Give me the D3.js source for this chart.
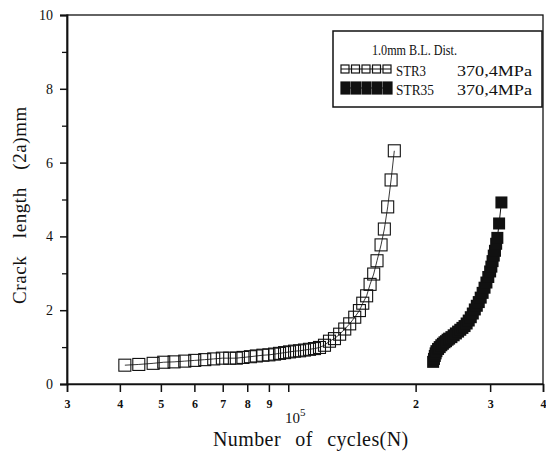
<!DOCTYPE html>
<html><head><meta charset="utf-8">
<script src="https://cdn.jsdelivr.net/npm/d3@7"></script>
<style>
body{margin:0;background:#fff;}
text{font-family:"Liberation Serif","DejaVu Serif",serif;fill:#111;}
</style></head>
<body><svg id="c" width="546" height="454"></svg>
<script>
// ---- data ----
const str3N = [41100,44340,47940,50790,53730,56940,60120,63480,66660,69870,72720,75390,78150,81390,84060,87120,90000,92820,95370,98010,100700,103500,106350,109260,112260,115350,118530,121800,125160,128600,132270,136000,139700,143600,147300,150000,153200,156100,159200,162100,165700,168700,171800,175000,178100];
const str3A = [0.51,0.53,0.56,0.59,0.60,0.62,0.64,0.66,0.68,0.70,0.70,0.70,0.72,0.74,0.76,0.78,0.79,0.81,0.83,0.85,0.87,0.89,0.90,0.92,0.94,0.96,0.99,1.05,1.16,1.23,1.35,1.49,1.63,1.81,1.99,2.19,2.39,2.70,2.98,3.34,3.77,4.20,4.80,5.53,6.32];
const str35N = [220000,221000,222000,223000,224000,226000,228000,230000,232000,234000,236000,238000,240000,243000,246000,249000,252000,255000,258000,261000,264000,267000,270000,273000,276000,279000,282000,285000,288000,291000,294000,297000,300000,302000,304000,306000,308000,310000,312000,315000,319000];
const str35A = [0.60,0.68,0.76,0.83,0.89,0.95,1.00,1.05,1.09,1.13,1.16,1.20,1.23,1.27,1.32,1.37,1.42,1.47,1.52,1.57,1.64,1.72,1.81,1.91,2.02,2.12,2.22,2.34,2.47,2.61,2.75,2.90,3.05,3.18,3.33,3.48,3.61,3.80,3.96,4.35,4.92];
const xTickValues = [30000,40000,50000,60000,70000,80000,90000,100000,200000,300000,400000];
const xTickLabels = ["3","4","5","6","7","8","9","","2","3","4"];
const yMajorTicks = [0,2,4,6,8,10];
const yMinorTicks = [1,3,5,7,9];
const legendTitle = "1.0mm B.L. Dist.";
const seriesNames = ["STR3","STR35"];
const seriesStress = ["370,4MPa","370,4MPa"];

// ---- layout ----
const svg = d3.select("#c");
const L=67, R=543, T=15, B=384;
const x = d3.scaleLog().domain([30000,400000]).range([L,R]);
const y = d3.scaleLinear().domain([0,10]).range([B,T]);
const serif = "'Liberation Serif','DejaVu Serif',serif";

// frame
svg.append("rect").attr("x",L).attr("y",T).attr("width",R-L).attr("height",B-T)
  .attr("fill","none").attr("stroke","#111").attr("stroke-width",1.3);

// x axis
const xAxis = d3.axisBottom(x).tickValues(xTickValues)
  .tickFormat((d,i)=>xTickLabels[i]).tickSize(8).tickPadding(7);
const gx = svg.append("g").attr("transform",`translate(0,${B})`).call(xAxis)
  .attr("font-family",serif).attr("font-size",12);
gx.select(".domain").attr("stroke","#111").attr("stroke-width",1.5);
gx.selectAll(".tick line").attr("stroke","#111").attr("stroke-width",1.5);
gx.selectAll(".tick text").attr("fill","#111").style("font-weight","bold");
const p5 = svg.append("text").attr("x",x(100000)+7).attr("y",423)
  .attr("text-anchor","middle").style("font-size","15px");
p5.append("tspan").text("10");
p5.append("tspan").attr("dy",-7).style("font-size","11px").text("5");

// y axis
const yAxis = d3.axisLeft(y).tickValues(yMajorTicks).tickSize(7).tickPadding(7);
const gy = svg.append("g").attr("transform",`translate(${L},0)`).call(yAxis)
  .attr("font-family",serif).attr("font-size",14);
gy.select(".domain").attr("stroke","#111").attr("stroke-width",1.8);
gy.selectAll(".tick line").attr("stroke","#111").attr("stroke-width",1.5);
gy.selectAll(".tick text").attr("fill","#111");
const yMinor = d3.axisLeft(y).tickValues(yMinorTicks).tickSize(5).tickFormat("");
const gy2 = svg.append("g").attr("transform",`translate(${L},0)`).call(yMinor);
gy2.select(".domain").remove();
gy2.selectAll(".tick line").attr("stroke","#111").attr("stroke-width",1.3);

// axis titles
svg.append("text").attr("x",213).attr("y",446)
  .style("font-size","20px").style("letter-spacing","0.4px").style("word-spacing","9px").text("Number of cycles(N)");
svg.append("text").attr("transform","translate(26,205) rotate(-90)").attr("text-anchor","middle")
  .style("font-size","19px").style("letter-spacing","0.6px").style("word-spacing","12px").text("Crack length (2a)mm");

// series 1: open squares
const d1 = str3N.map((n,i)=>[n,str3A[i]]);
svg.append("path").datum(d1)
  .attr("d",d3.line().x(d=>x(d[0])).y(d=>y(d[1])))
  .attr("fill","none").attr("stroke","#222").attr("stroke-width",0.9);
const s1=12;
svg.append("g").selectAll("rect").data(d1).join("rect")
  .attr("x",d=>x(d[0])-s1/2).attr("y",d=>y(d[1])-s1/2)
  .attr("width",s1).attr("height",s1)
  .attr("fill","none").attr("stroke","#111").attr("stroke-width",1.1);

// series 2: filled squares
const d2 = str35N.map((n,i)=>[n,str35A[i]]);
svg.append("path").datum(d2)
  .attr("d",d3.line().x(d=>x(d[0])).y(d=>y(d[1])))
  .attr("fill","none").attr("stroke","#111").attr("stroke-width",1);
const s2=12;
svg.append("g").selectAll("rect").data(d2).join("rect")
  .attr("x",d=>x(d[0])-s2/2).attr("y",d=>y(d[1])-s2/2)
  .attr("width",s2).attr("height",s2).attr("fill","#111");

// legend
const lg = svg.append("g");
lg.append("rect").attr("x",333).attr("y",31).attr("width",209).attr("height",76)
  .attr("fill","#fff").attr("stroke","#111").attr("stroke-width",1.5);
lg.append("text").attr("x",372).attr("y",55).attr("textLength",85).attr("lengthAdjust","spacingAndGlyphs")
  .style("font-size","15px").text(legendTitle);
[0,1].forEach(i=>{
  const cy = 69 + i*19;
  lg.append("line").attr("x1",341).attr("x2",391).attr("y1",cy).attr("y2",cy)
    .attr("stroke","#111").attr("stroke-width",1);
  [0,1,2,3,4].forEach(k=>{
    lg.append("rect").attr("x",341+k*10.5).attr("y",cy-(i?6:4)).attr("width",i?9:8)
      .attr("height",i?12:8).attr("fill",i?"#111":"none").attr("stroke","#111").attr("stroke-width",1.2);
  });
  lg.append("text").attr("x",396).attr("y",cy+7).attr("textLength",i?38:30).attr("lengthAdjust","spacingAndGlyphs")
    .style("font-size","15px").text(seriesNames[i]);
  lg.append("text").attr("x",457).attr("y",cy+7).attr("textLength",75).attr("lengthAdjust","spacingAndGlyphs")
    .style("font-size","15px").text(seriesStress[i]);
});
</script></body></html>
